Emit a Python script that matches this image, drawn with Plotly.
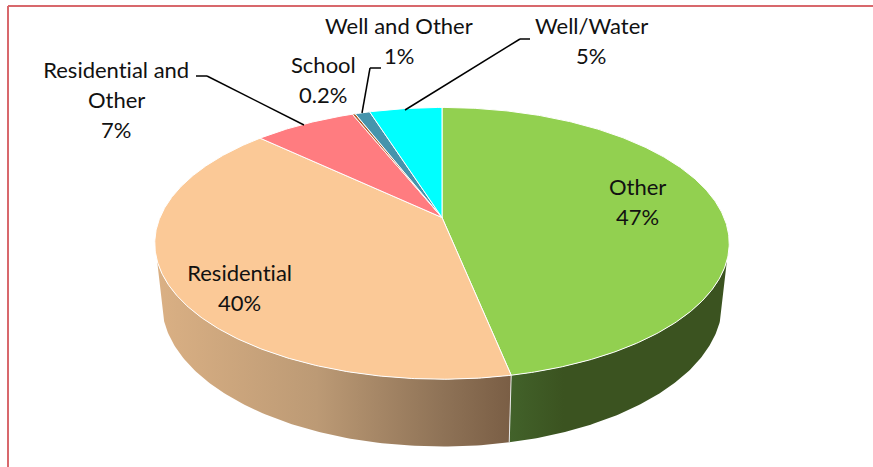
import numpy as np
import plotly.graph_objects as go

categories = ["Other", "Residential", "Residential and Other", "School", "Well and Other", "Well/Water"]
values = [46.8, 40.2, 6.9, 0.2, 1.0, 4.9]
value_labels = ["47%", "40%", "7%", "0.2%", "1%", "5%"]
top_colors = ["#92D050", "#FBC997", "#FF7C80", "#B5602F", "#4694AC", "#00FFFF"]

label_lines = [["Other", "47%"], ["Residential", "40%"], ["Residential and", "Other", "7%"],
               ["School", "0.2%"], ["Well and Other", "1%"], ["Well/Water", "5%"]]
label_pos = [(637, 186), (239, 272), (116, 69), (323, 64), (399, 25), (591, 25)]
LINE_H = 30

# camera model of the tilted disc (pixel frame)
CX, CY, R, S, K, M, D = 442, 217.5, 282, 131, 0.19, 0.024, 60
SIDE_L, SIDE_R = 252, 108


def project(theta_deg, bottom=False):
    t = np.radians(theta_deg)
    u, v = np.sin(t), np.cos(t)
    w = 1 + K * v + (M if bottom else 0)
    return CX + R * u / w, CY + (-S * v + (D if bottom else 0)) / w


frac = np.array(values) / sum(values) * 360
edges = np.concatenate([[0], np.cumsum(frac)])

fig = go.Figure()


def wall(a, b, scale):
    th = np.linspace(a, b, 120)
    xt, yt = project(th)
    xb, yb = project(th[::-1], True)
    fig.add_trace(go.Scatter(
        x=np.r_[xt, xb, xt[0]], y=np.r_[yt, yb, yt[0]], mode="lines", line=dict(width=0),
        fill="toself", hoverinfo="skip", showlegend=False,
        fillgradient=dict(type="horizontal", colorscale=scale)))


wall(SIDE_R, edges[1], [[0, "#42622A"], [0.25, "#3B5320"], [1, "#3B5320"]])
wall(edges[1], SIDE_L, [[0, "#DAB084"], [0.45, "#BC9A75"], [0.8, "#8F7357"], [1, "#7A5E45"]])

# white divider on the wall
xa, ya = project(edges[1])
xb, yb = project(edges[1], True)
fig.add_shape(type="line", x0=float(xa), y0=float(ya), x1=float(xb), y1=float(yb),
              line=dict(color="#E8E8E8", width=1))

for i, name in enumerate(categories):
    th = np.linspace(edges[i], edges[i + 1], max(3, int(frac[i] * 2)))
    x, y = project(th)
    fig.add_trace(go.Scatter(
        x=np.r_[CX, x, CX], y=np.r_[CY, y, CY], mode="lines", name=name,
        line=dict(color="white", width=1), fill="toself", fillcolor=top_colors[i],
        hoverinfo="name", showlegend=False))

# leader lines
leaders = [[(196, 76), (207, 76), (304, 125)], [(381, 68), (370, 68), (362, 113)],
           [(530, 39), (520, 39), (405, 110)]]
for pts in leaders:
    for p, q in zip(pts[:-1], pts[1:]):
        fig.add_shape(type="line", x0=p[0], y0=p[1], x1=q[0], y1=q[1],
                      line=dict(color="black", width=1.5))

# frame: only the left and top edges are visible
fig.add_shape(type="line", x0=8, y0=6, x1=8, y1=467, line=dict(color="#D8686C", width=2))
fig.add_shape(type="line", x0=8, y0=6, x1=873, y1=6, line=dict(color="#D8686C", width=2))

for lines, (lx, ly) in zip(label_lines, label_pos):
    for j, t in enumerate(lines):
        fig.add_annotation(x=lx, y=ly + j * LINE_H, text=t, showarrow=False,
                           font=dict(family="Lato", size=22, color="#111111"),
                           xanchor="center", yanchor="middle")

fig.update_layout(
    width=873, height=467, margin=dict(l=0, r=0, t=0, b=0),
    paper_bgcolor="white", plot_bgcolor="white", showlegend=False,
    xaxis=dict(range=[0, 873], visible=False, fixedrange=True),
    yaxis=dict(range=[467, 0], visible=False, fixedrange=True),
)
post = ("document.body.style.margin='0';document.body.style.overflow='hidden';"
        "var s=document.createElement('style');"
        "s.textContent='text{font-variant-ligatures:none !important;"
        "font-feature-settings:\"liga\" 0,\"clig\" 0,\"dlig\" 0 !important}';"
        "document.head.appendChild(s);")
fig.write_html("out.html", config={"displayModeBar": False}, post_script=post)
